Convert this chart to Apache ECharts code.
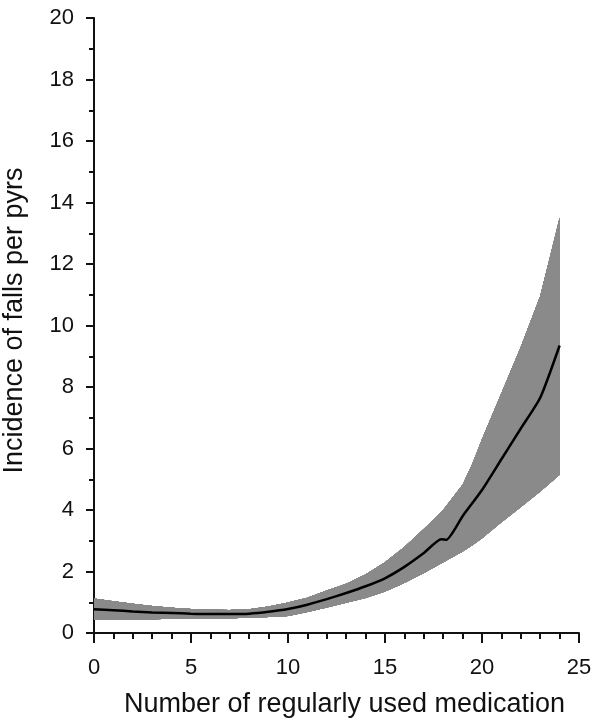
<!DOCTYPE html>
<html>
<head>
<meta charset="utf-8">
<title>Incidence of falls</title>
<script src="https://cdn.jsdelivr.net/npm/echarts@6/dist/echarts.min.js"></script>
<style>
  html, body { margin: 0; padding: 0; background: #fff; }
  #line-chart { width: 595px; height: 725px; }
</style>
</head>
<body>
<div id="line-chart"></div>
<script>
// 数据
var bandX = [0, 1, 2, 3, 4, 5, 6, 7, 8, 9, 10, 11, 12, 13, 14, 15, 16, 17, 18, 19, 19.5, 20, 21, 22, 23, 24];
var lowerCI = [0.45, 0.45, 0.45, 0.45, 0.46, 0.48, 0.48, 0.48, 0.50, 0.52, 0.55, 0.68, 0.83, 0.98, 1.14, 1.35, 1.63, 1.95, 2.30, 2.65, 2.85, 3.08, 3.60, 4.10, 4.60, 5.15];
var upperCI = [1.12, 1.03, 0.95, 0.88, 0.82, 0.78, 0.76, 0.75, 0.77, 0.86, 0.99, 1.15, 1.38, 1.60, 1.90, 2.30, 2.80, 3.38, 4.00, 4.82, 5.50, 6.30, 7.80, 9.30, 10.95, 13.50];

var fitX = [0, 1, 2, 3, 4, 5, 6, 7, 8, 9, 10, 11, 12, 13, 14, 15, 16, 17, 17.9, 18.15, 19, 20, 21, 22, 23, 24];
var fitY = [0.77, 0.74, 0.70, 0.67, 0.65, 0.63, 0.62, 0.62, 0.63, 0.69, 0.78, 0.92, 1.10, 1.30, 1.52, 1.78, 2.15, 2.60, 3.05, 3.03, 3.80, 4.65, 5.65, 6.65, 7.65, 9.35];

function pairs(xs, ys) {
  return xs.map(function (x, i) { return [x, ys[i]]; });
}

// 初始化
var lineChart = echarts.init(document.getElementById('line-chart'));

var font = 'Liberation Sans, Arial, sans-serif';

// 置信区间：上下界围成的多边形
function renderBand(params, api) {
  var pts = [];
  bandX.forEach(function (x, i) { pts.push(api.coord([x, upperCI[i]])); });
  for (var i = bandX.length - 1; i >= 0; i--) {
    pts.push(api.coord([bandX[i], lowerCI[i]]));
  }
  return {
    type: 'polygon',
    shape: { points: pts },
    style: { fill: '#8a8a8a', stroke: null }
  };
}

var option = {
  animation: false,
  grid: {
    left: 94,
    right: 16,
    top: 18,
    bottom: 92,
    outerBoundsMode: 'none',
    containLabel: false
  },
  xAxis: {
    type: 'value',
    min: 0,
    max: 25,
    interval: 5,
    name: 'Number of regularly used medication',
    nameLocation: 'middle',
    nameGap: 58,
    nameTextStyle: { color: '#111', fontSize: 27, fontFamily: font, padding: [0, 0, 0, 16] },
    axisLine: { lineStyle: { color: '#111', width: 2 } },
    axisTick: { length: 10, lineStyle: { color: '#111', width: 2 } },
    minorTick: { show: true, splitNumber: 5, length: 6, lineStyle: { color: '#111', width: 2 } },
    axisLabel: { color: '#111', fontSize: 22, fontFamily: font, margin: 24 },
    splitLine: { show: false }
  },
  yAxis: {
    type: 'value',
    min: 0,
    max: 20,
    interval: 2,
    name: 'Incidence of falls per pyrs',
    nameLocation: 'middle',
    nameGap: 66,
    nameTextStyle: { color: '#111', fontSize: 27, fontFamily: font, padding: [0, 0, 0, 10] },
    axisLine: { show: true, lineStyle: { color: '#111', width: 2 } },
    axisTick: { show: true, length: 8, lineStyle: { color: '#111', width: 2 } },
    minorTick: { show: true, splitNumber: 2, length: 5, lineStyle: { color: '#111', width: 2 } },
    axisLabel: { color: '#111', fontSize: 22, fontFamily: font, margin: 20 },
    splitLine: { show: false }
  },
  series: [
    {
      type: 'custom',
      renderItem: renderBand,
      data: pairs(bandX, upperCI),
      z: 1
    },
    // 拟合曲线
    {
      type: 'line',
      symbol: 'none',
      smooth: 0.2,
      lineStyle: { color: '#000', width: 2.5 },
      data: pairs(fitX, fitY),
      z: 5
    }
  ]
};

// 应用配置
lineChart.setOption(option);
</script>
</body>
</html>
